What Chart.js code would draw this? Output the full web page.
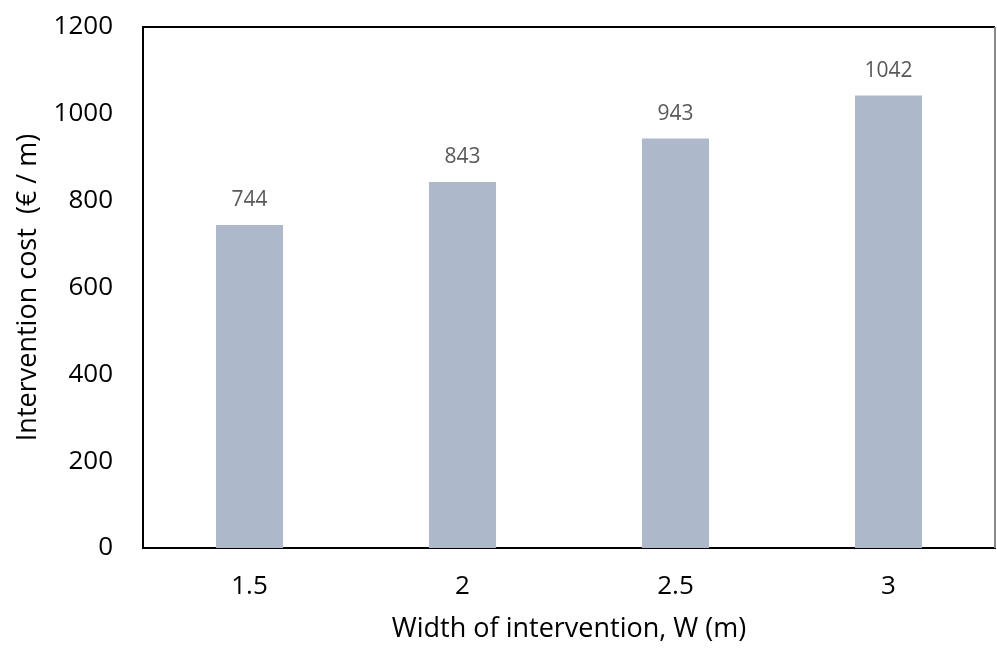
<!DOCTYPE html>
<html>
<head>
<meta charset="utf-8">
<script src="https://cdn.jsdelivr.net/npm/chart.js@4/dist/chart.umd.min.js"></script>
<style>
  body { margin: 0; background: #fff; }
  #wrap { width: 997px; height: 648px; position: relative; }
</style>
</head>
<body>
<div id="wrap"><canvas id="barChart"></canvas></div>
<script>
// data
const widths = ['1.5', '2', '2.5', '3'];
const costs = [744, 843, 943, 1042];
const yTicks = [0, 200, 400, 600, 800, 1000, 1200];

const FONT = 'Open Sans';

// value labels above bars + the frame round the plot area
const extras = {
    id: 'extras',
    afterDatasetsDraw(chart) {
        const ctx = chart.ctx;
        const meta = chart.getDatasetMeta(0);
        ctx.save();
        ctx.font = '21px "' + FONT + '"';
        ctx.fillStyle = '#595959';
        ctx.textAlign = 'center';
        ctx.textBaseline = 'middle';
        meta.data.forEach((bar, i) => {
            ctx.fillText(costs[i], bar.x, bar.y - 25);
        });
        const a = chart.chartArea;
        ctx.lineWidth = 2;
        ctx.strokeStyle = '#000';
        ctx.beginPath();
        ctx.moveTo(a.left, a.top);
        ctx.lineTo(a.right, a.top);
        ctx.stroke();
        ctx.strokeStyle = '#8a8a8a';
        ctx.beginPath();
        ctx.moveTo(a.right, a.top);
        ctx.lineTo(a.right, a.bottom);
        ctx.stroke();
        ctx.restore();
    }
};

new Chart(document.getElementById('barChart'), {
    type: 'bar',
    data: {
        labels: widths,
        datasets: [{
            data: costs,
            backgroundColor: '#ADB9CA',
            categoryPercentage: 1,
            barPercentage: 0.315
        }]
    },
    options: {
        responsive: true,
        maintainAspectRatio: false,
        animation: false,
        layout: { padding: { top: 27, right: 2, left: 0, bottom: 0 } },
        plugins: {
            legend: { display: false },
            tooltip: { enabled: false }
        },
        scales: {
            x: {
                grid: { display: false, drawTicks: false },
                border: { display: true, color: '#000', width: 2 },
                ticks: { color: '#000', font: { family: FONT, size: 26 }, padding: 23 },
                title: {
                    display: true,
                    text: 'Width of intervention, W (m)',
                    color: '#000',
                    font: { family: FONT, size: 27 },
                    padding: { top: 0, bottom: 2 }
                },
                afterFit(scale) { scale.height = 100; }
            },
            y: {
                min: 0,
                max: 1200,
                afterBuildTicks(scale) { scale.ticks = yTicks.map(v => ({ value: v })); },
                grid: { display: false, drawTicks: false },
                border: { display: true, color: '#000', width: 2 },
                ticks: {
                    color: '#000',
                    font: { family: FONT, size: 26 },
                    padding: 30,
                    callback: v => String(v)
                },
                title: {
                    display: true,
                    text: 'Intervention cost  (€ / m)',
                    color: '#000',
                    font: { family: FONT, size: 27 },
                    padding: { top: 12, bottom: 0 }
                },
                afterFit(scale) {
                    scale.width = 143;
                    scale.paddingTop = 0;
                }
            }
        }
    },
    plugins: [extras]
});
</script>
</body>
</html>
